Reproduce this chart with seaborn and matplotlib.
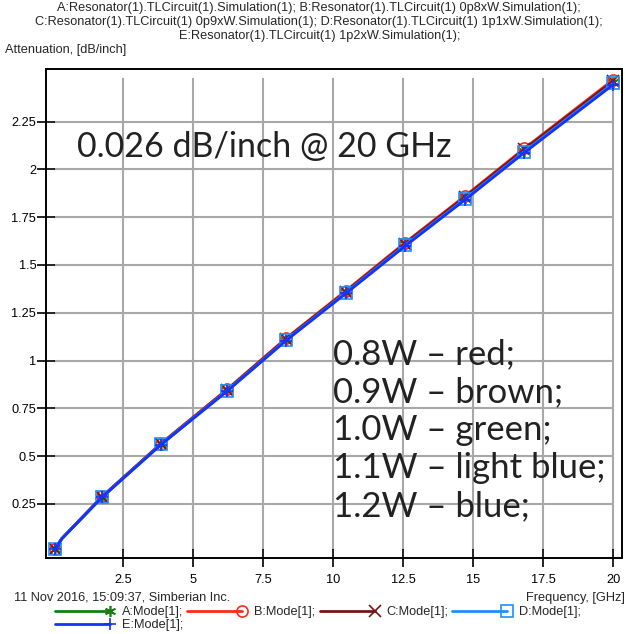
import matplotlib
matplotlib.use("Agg")
import matplotlib.pyplot as plt
import seaborn as sns
from matplotlib.lines import Line2D
from matplotlib.legend_handler import HandlerLine2D

# Frequency sweep points (GHz) and attenuation (dB/inch) per trace width
freq_ghz = [0.06, 0.3, 1.75, 3.84, 6.21, 8.31, 10.45, 12.56, 14.7, 16.82, 20.0]
marker_idx = [0, 2, 3, 4, 5, 6, 7, 8, 9, 10]

att_a_1p0w = [0.013, 0.068, 0.288, 0.562, 0.845, 1.110, 1.358, 1.607, 1.850, 2.098, 2.456]
att_b_0p8w = [0.013, 0.069, 0.290, 0.565, 0.850, 1.116, 1.365, 1.616, 1.860, 2.109, 2.469]
att_c_0p9w = [0.013, 0.068, 0.289, 0.564, 0.847, 1.113, 1.361, 1.611, 1.855, 2.104, 2.462]
att_d_1p1w = [0.013, 0.068, 0.287, 0.561, 0.843, 1.107, 1.355, 1.603, 1.845, 2.093, 2.450]
att_e_1p2w = [0.013, 0.067, 0.286, 0.559, 0.840, 1.104, 1.351, 1.598, 1.840, 2.087, 2.443]

series_labels = ["A:Mode[1];", "B:Mode[1];", "C:Mode[1];", "D:Mode[1];", "E:Mode[1];"]

x_ticks = [2.5, 5, 7.5, 10, 12.5, 15, 17.5, 20]
x_tick_labels = ["2.5", "5", "7.5", "10", "12.5", "15", "17.5", "20"]
y_ticks = [0.25, 0.5, 0.75, 1.0, 1.25, 1.5, 1.75, 2.0, 2.25]
y_tick_labels = ["0.25", "0.5", "0.75", "1", "1.25", "1.5", "1.75", "2", "2.25"]

title_lines = [
    "A:Resonator(1).TLCircuit(1).Simulation(1); B:Resonator(1).TLCircuit(1) 0p8xW.Simulation(1);",
    "C:Resonator(1).TLCircuit(1) 0p9xW.Simulation(1); D:Resonator(1).TLCircuit(1) 1p1xW.Simulation(1);",
    "E:Resonator(1).TLCircuit(1) 1p2xW.Simulation(1);",
]
note_headline = "0.026 dB/inch @ 20 GHz"
note_lines = ["0.8W \u2013 red;", "0.9W \u2013 brown;", "1.0W \u2013 green;",
              "1.1W \u2013 light blue;", "1.2W \u2013 blue;"]

# Styling
sns.set_style("white")
plt.rcParams["font.family"] = ["Liberation Sans", "DejaVu Sans"]

colors = ["#108010", "#ff2a1a", "#7a1414", "#1e8fff", "#1432ff"]
markers = [(6, 2, 0), "o", "x", "s", "+"]
msizes = [8, 8, 8, 8, 9]
small = 9.2

W, H = 626, 634
fig = plt.figure(figsize=(W / 100, H / 100), dpi=100)
ax = fig.add_axes([46 / W, 1 - 557.7 / H, (621.7 - 46) / W, (557.7 - 69.3) / H])

# Grid box sits inside the frame, spanning the data range
ax.hlines(y_ticks, 0.02, 20.0, colors="#a8a8a8", lw=1.5, zorder=0)
ax.vlines(x_ticks, 0.01, 2.478, colors="#a8a8a8", lw=1.5, zorder=0)

series = [att_a_1p0w, att_b_0p8w, att_c_0p9w, att_d_1p1w, att_e_1p2w]
for vals, lab, col, mk, ms in zip(series, series_labels, colors, markers, msizes):
    sns.lineplot(x=freq_ghz, y=vals, ax=ax, color=col, lw=2.0, marker=mk,
                 markersize=ms, markevery=marker_idx, markerfacecolor="none",
                 markeredgecolor=col, markeredgewidth=1.2, label=lab,
                 legend=False, sort=False)

ax.set_xlim(-0.26, 20.3)
ax.set_ylim(-0.031, 2.523)
ax.set_xticks(x_ticks, x_tick_labels)
ax.set_yticks(y_ticks, y_tick_labels)
ax.set_xlabel("")
ax.set_ylabel("")
ax.grid(False)
for s in ax.spines.values():
    s.set_color("black")
    s.set_linewidth(1.4)
ax.tick_params(direction="inout", length=13, width=1.2, colors="black",
               labelsize=small, left=True, bottom=True)
ax.tick_params(axis="x", pad=5)
ax.tick_params(axis="y", pad=0.5)

# Header and axis captions
for i, line in enumerate(title_lines):
    fig.text(0.51, 1 - (8 + 14 * i) / H, line, ha="center", va="center", fontsize=small)
fig.text(5 / W, 1 - 50 / H, "Attenuation, [dB/inch]", ha="left", va="center", fontsize=small)
fig.text(14 / W, 1 - 598 / H, "11 Nov 2016, 15:09:37, Simberian Inc.", ha="left",
         va="center", fontsize=small)
fig.text(625 / W, 1 - 598 / H, "Frequency, [GHz]", ha="right", va="center", fontsize=small)

# Annotations
fig.text(77 / W, 1 - 147 / H, note_headline, ha="left", va="center", fontsize=24.5,
         family="Lato", color="#222222")
for i, line in enumerate(note_lines):
    fig.text(333 / W, 1 - (354 + 38 * i) / H, line, ha="left", va="center", fontsize=25,
             family="Lato", color="#222222")


class EndMarkerHandler(HandlerLine2D):
    """Legend entry: a line with its marker drawn at the right end."""

    def create_artists(self, legend, orig_handle, xdescent, ydescent, width, height,
                       fontsize, trans):
        x0, x1 = -xdescent, -xdescent + width
        y = (height - ydescent) / 2
        ln = Line2D([x0, x1], [y, y], color=orig_handle.get_color(),
                    lw=orig_handle.get_linewidth())
        mk = Line2D([x1], [y], linestyle="none", marker=orig_handle.get_marker(),
                    markersize=orig_handle.get_markersize(), markerfacecolor="none",
                    markeredgecolor=orig_handle.get_markeredgecolor(),
                    markeredgewidth=orig_handle.get_markeredgewidth())
        ln.set_transform(trans)
        mk.set_transform(trans)
        return [ln, mk]


handles, labels = ax.get_legend_handles_labels()
order = [0, 4, 1, 2, 3]
fig.legend([handles[i] for i in order], [labels[i] for i in order], ncol=4,
           loc="upper left", bbox_to_anchor=(50 / W, 1 - 601 / H), borderaxespad=0,
           frameon=False, fontsize=small, handlelength=4.3, handletextpad=0.9,
           columnspacing=0.35, labelspacing=0.08,
           handler_map={Line2D: EndMarkerHandler()})

fig.savefig("out.png", dpi=100)
